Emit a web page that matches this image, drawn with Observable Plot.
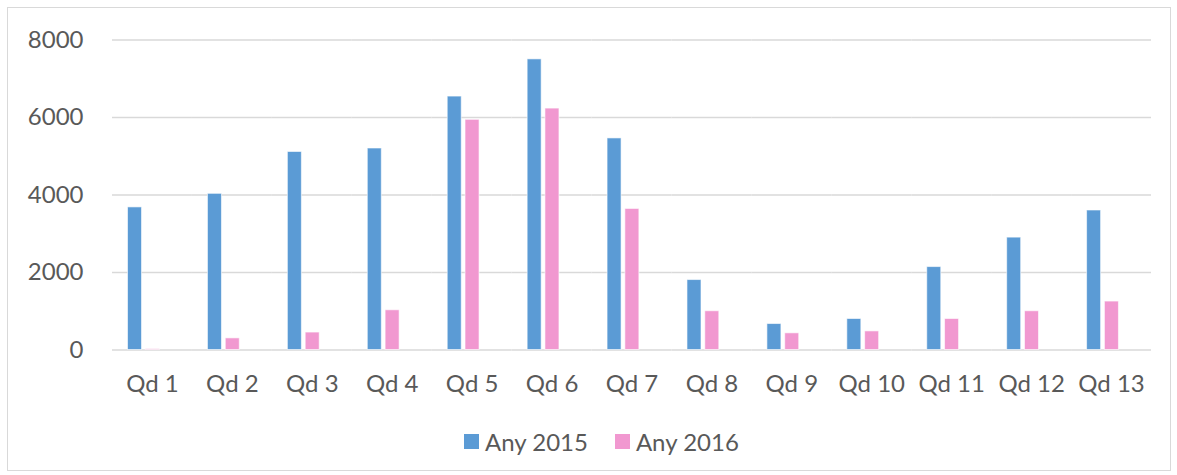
<!DOCTYPE html>
<html><head><meta charset="utf-8">
<script src="https://cdn.jsdelivr.net/npm/d3@7"></script>
<script src="https://cdn.jsdelivr.net/npm/@observablehq/plot@0.6"></script>
<style>
body{margin:0;background:#fff;font-family:Lato,sans-serif;}
#wrap{position:relative;width:1177px;height:475px;overflow:hidden;background:#fff;}
#frame{position:absolute;left:7px;top:7px;width:1164px;height:464px;border:1px solid #d9d9d9;box-sizing:border-box;}
#chart{position:absolute;left:0;top:0;}
#legend{position:absolute;top:426px;left:464px;height:30px;display:flex;align-items:center;font-family:Lato,sans-serif;font-size:24px;color:#595959;}
.item{display:flex;align-items:center;margin-right:27px;}
.sw{width:15px;height:15px;margin-right:6px;}
</style></head>
<body>
<div id="wrap"><div id="frame"></div><div id="chart"></div><div id="legend"></div></div>
<script>
const categories = ["Qd 1","Qd 2","Qd 3","Qd 4","Qd 5","Qd 6","Qd 7","Qd 8","Qd 9","Qd 10","Qd 11","Qd 12","Qd 13"];
const series = ["Any 2015","Any 2016"];
const values2015 = [3680, 4030, 5110, 5200, 6540, 7500, 5460, 1805, 670, 800, 2140, 2900, 3600];
const values2016 = [20, 300, 450, 1025, 5940, 6230, 3640, 1000, 430, 480, 800, 1000, 1250];
const colors = ["#5B9BD5", "#F198D0"];
const yTicks = [0, 2000, 4000, 6000, 8000];

const data = categories.flatMap((c, i) => [
  {cat: c, s: series[0], v: values2015[i]},
  {cat: c, s: series[1], v: values2016[i]}
]);

const chart = Plot.plot({
  width: 1177, height: 410,
  marginLeft: 112, marginRight: 26, marginTop: 39.5, marginBottom: 60.5,
  style: {fontFamily: "Lato, sans-serif", fontSize: "24px", color: "#595959", background: "transparent"},
  fx: {domain: categories, padding: 0, round: false, label: null},
  x: {domain: series, paddingInner: 0.2135, paddingOuter: 1.35, align: 0.3226, round: false, axis: null},
  y: {domain: [0, 8000]},
  color: {domain: series, range: colors},
  marks: [
    Plot.gridY(yTicks, {stroke: "#d9d9d9", strokeOpacity: 1, strokeWidth: 1.5}),
    Plot.axisY(yTicks, {tickSize: 0, tickPadding: 29, fontSize: 24, label: null, tickFormat: d => String(d)}),
    Plot.axisFx({anchor: "bottom", tickSize: 0, tickPadding: 25, fontSize: 24, label: null}),
    Plot.barY(data, {fx: "cat", x: "s", y: "v", fill: "s", stroke: "white", strokeOpacity: 0.6, strokeWidth: 1})
  ]
});
document.getElementById("chart").appendChild(chart);

const legend = document.getElementById("legend");
series.forEach((s, i) => {
  const item = document.createElement("div");
  item.className = "item";
  const sw = document.createElement("div");
  sw.className = "sw";
  sw.style.background = colors[i];
  const t = document.createElement("span");
  t.textContent = s;
  item.appendChild(sw); item.appendChild(t);
  legend.appendChild(item);
});
</script>
</body></html>
